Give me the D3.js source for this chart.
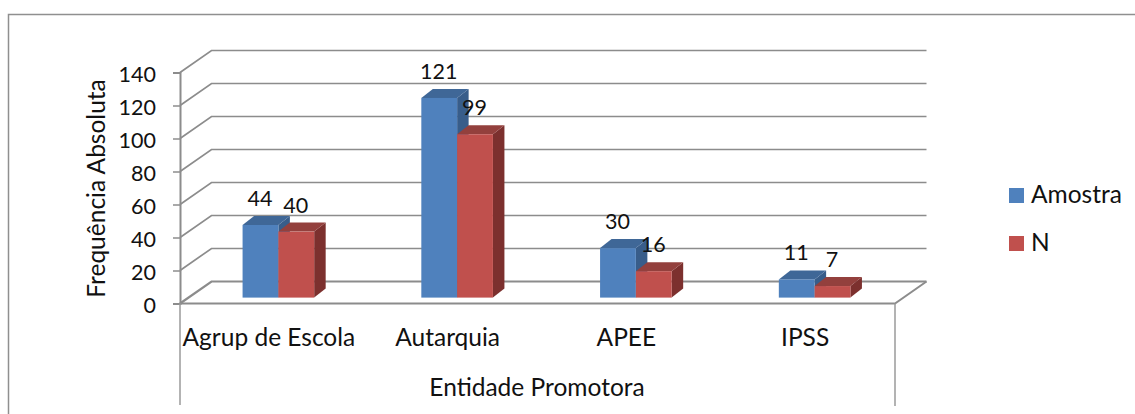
<!DOCTYPE html>
<html>
<head>
<meta charset="utf-8">
<script src="https://cdn.jsdelivr.net/npm/d3@7/dist/d3.min.js"></script>
<style>
  html, body { margin: 0; background: #fff; }
  text { font-family: Lato, "Open Sans", sans-serif; font-size: 24.5px; fill: #111; }
  text.num { font-size: 21.5px; }
</style>
</head>
<body>
<div id="chart"></div>
<script>
const categories = ["Agrup de Escola", "Autarquia", "APEE", "IPSS"];
const amostra = [44, 121, 30, 11];
const nValues = [40, 99, 16, 7];
const yTicks = [0, 20, 40, 60, 80, 100, 120, 140];
const seriesNames = ["Amostra", "N"];

const W = 1135, H = 414;
const svg = d3.select("#chart").append("svg")
  .attr("width", W).attr("height", H).style("display", "block");

const grey = "#8c8c8c";
const left = 180, right = 895;
const skewX = 31.5, skewY = -22; // offset of the back wall
const barDx = 11.5, barDy = -9;  // depth of the bars
const barShift = 9;              // bars sit a little behind the front plane

// outer frame
svg.append("path")
  .attr("d", `M8.5 ${H}V14.5H${W}`)
  .attr("fill", "none").attr("stroke", "#8f8f8f").attr("stroke-width", 1.5);

const y = d3.scaleLinear().domain([0, 140]).range([303.5, 72.5]);
const x = d3.scaleBand().domain(categories).range([left, right]);
const xInner = d3.scaleBand().domain(seriesNames).range([-35.8, 35.8]);
const barBase = 297.6;
const h = (v) => y(0) - y(v);

// back wall gridlines + left wall diagonals
const grid = svg.append("g").attr("fill", "none").attr("stroke", grey);
grid.selectAll("path.g").data(yTicks).join("path")
  .attr("class", "g")
  .attr("stroke-width", (d) => d === 0 ? 2.2 : 1.7)
  .attr("d", (d) => `M${left} ${y(d)}l${skewX} ${skewY}H${right + skewX}`);

// floor front edge and right side
grid.append("path")
  .attr("stroke-width", 2)
  .attr("d", `M${left} ${y(0)}H${right}l${skewX} ${skewY}`);

// axes
const yAxis = d3.axisLeft(y).tickValues(yTicks).tickSize(7).tickPadding(17);
const gy = svg.append("g").attr("transform", `translate(${left},0)`).call(yAxis);
gy.select(".domain").attr("stroke", grey).attr("stroke-width", 2);
gy.selectAll(".tick line").attr("stroke", grey).attr("stroke-width", 1.5);
gy.selectAll(".tick text").attr("class", "num").attr("dy", "0.44em");

// category dividers only at the two ends, as in the picture
svg.append("path")
  .attr("d", `M${left} ${y(0)}V405M${right} ${y(0)}V406`)
  .attr("stroke", "#9a9a9a").attr("stroke-width", 1.5).attr("fill", "none");

const series = [
  { name: seriesNames[0], values: amostra, front: "#4f81bd", top: "#3f6797", side: "#385d8a" },
  { name: seriesNames[1], values: nValues, front: "#c0504d", top: "#93403d", side: "#7c302e" },
];

// bars, each one front face + top + side
series.forEach((s) => {
  const g = svg.append("g").selectAll("g").data(categories).join("g")
    .attr("transform", (c) => `translate(${x(c) + x.bandwidth() / 2 + barShift},0)`);
  const bx = xInner(s.name), bw = xInner.bandwidth();
  const val = (c) => s.values[categories.indexOf(c)];
  g.append("path").attr("fill", s.side)
    .attr("d", (c) => `M${bx + bw} ${barBase - h(val(c))}l${barDx} ${barDy}V${barBase + barDy}l${-barDx} ${-barDy}Z`);
  g.append("path").attr("fill", s.top)
    .attr("d", (c) => `M${bx} ${barBase - h(val(c))}l${barDx} ${barDy}h${bw}l${-barDx} ${-barDy}Z`);
  g.append("rect").attr("fill", s.front)
    .attr("x", bx).attr("width", bw)
    .attr("y", (c) => barBase - h(val(c))).attr("height", (c) => h(val(c)));
});

// value labels on top of everything
series.forEach((s) => {
  svg.append("g").selectAll("text").data(categories).join("text")
    .attr("class", "num")
    .attr("text-anchor", "middle")
    .attr("x", (c) => x(c) + x.bandwidth() / 2 + barShift + xInner(s.name) + xInner.bandwidth() / 2 - 0.5)
    .attr("y", (c) => barBase - h(s.values[categories.indexOf(c)]) - 19)
    .text((c) => s.values[categories.indexOf(c)]);
});

// category labels
svg.append("g").selectAll("text").data(categories).join("text")
  .attr("text-anchor", "middle")
  .attr("x", (c) => x(c) + x.bandwidth() / 2 - 0.5)
  .attr("y", 346)
  .text((c) => c);

// axis titles
svg.append("text").attr("text-anchor", "middle")
  .attr("x", 537).attr("y", 396).text("Entidade Promotora");
svg.append("text").attr("text-anchor", "middle")
  .attr("transform", "translate(105,188.5) rotate(-90)").text("Frequência Absoluta");

// legend
const legend = svg.append("g").selectAll("g").data(series).join("g")
  .attr("transform", (d, i) => `translate(1009,${188 + i * 48})`);
legend.append("rect").attr("width", 15).attr("height", 15).attr("fill", (d) => d.front);
legend.append("text").attr("x", 22).attr("y", 15).text((d) => d.name);
</script>
</body>
</html>
